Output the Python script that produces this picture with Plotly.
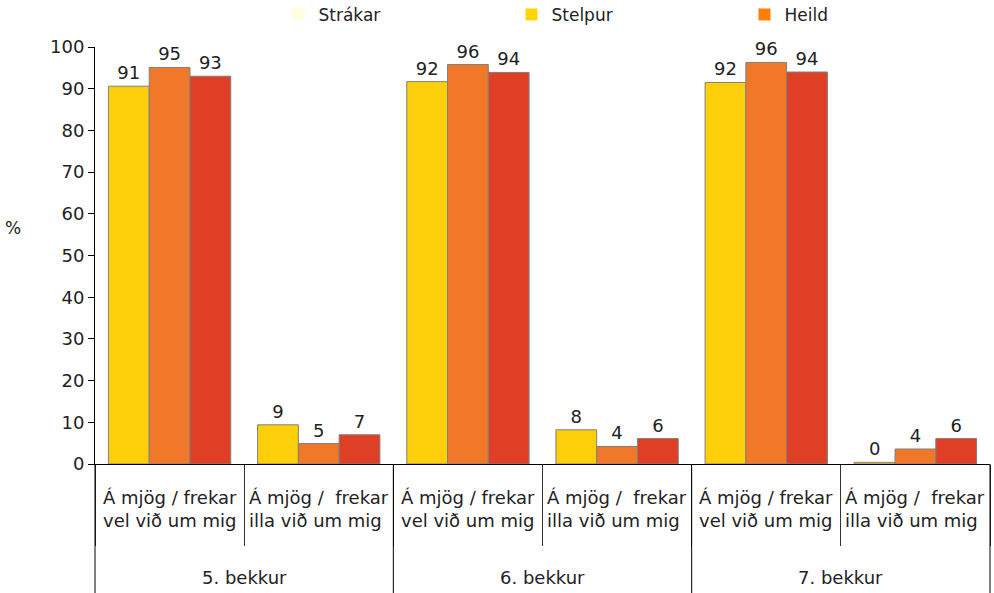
import plotly.graph_objects as go

# gögn lesin af myndinni
bekkir = ["5. bekkur", "6. bekkur", "7. bekkur"]
svor = [
    "Á mjög / frekar<br>vel við um mig",
    "Á mjög /  frekar<br>illa við um mig",
]
strakar = [90.6, 9.4, 91.7, 8.2, 91.5, 0.4]
stelpur = [95.1, 4.9, 95.8, 4.2, 96.3, 3.6]
heild = [93.0, 7.0, 93.9, 6.1, 94.0, 6.1]

radir = ["Strákar", "Stelpur", "Heild"]
litir_sula = ["#FCCF0A", "#F07828", "#DE3F25"]
litir_skyring = ["#FFFFE0", "#FFD700", "#FF7F00"]

FONT = "DejaVu Sans"
TEXTI = "#222222"

x_ytri = [b for b in bekkir for _ in svor]
x_innri = [s for _ in bekkir for s in svor]

fig = go.Figure()

for i, (nafn, gildi, litur) in enumerate(zip(radir, [strakar, stelpur, heild], litir_sula)):
    fig.add_trace(go.Bar(
        x=[x_ytri, x_innri],
        y=gildi,
        name=nafn,
        offsetgroup=str(i),
        showlegend=False,
        marker=dict(color=litur, line=dict(color="#808080", width=1)),
        text=[f"{v:.0f}" for v in gildi],
        textposition="outside",
        textfont=dict(size=18, color=TEXTI, family=FONT),
        cliponaxis=False,
    ))

# skýringar með sínum eigin litum (eins og í frumritinu)
for i, (nafn, litur) in enumerate(zip(radir, litir_skyring)):
    fig.add_trace(go.Bar(
        x=[[x_ytri[0]], [x_innri[0]]],
        y=[None],
        name=nafn,
        offsetgroup=str(i),
        marker=dict(color=litur, line=dict(width=0)),
        showlegend=True,
    ))

n = len(x_innri)
annotations = [dict(
    text="%", x=-0.0916, y=0.566, xref="paper", yref="paper",
    xanchor="center", yanchor="middle",
    showarrow=False, font=dict(size=17),
)]
for i, s in enumerate(x_innri):
    annotations.append(dict(
        text=s, x=(i + 0.5) / n, y=-0.108, xref="paper", yref="paper",
        xanchor="center", yanchor="middle",
        showarrow=False, align="left", font=dict(size=18),
    ))
for j, b in enumerate(bekkir):
    annotations.append(dict(
        text=b, x=(j + 0.5) / len(bekkir), y=-0.271, xref="paper", yref="paper",
        xanchor="center", yanchor="middle",
        showarrow=False, font=dict(size=18),
    ))

shapes = []
for j in range(len(bekkir) + 1):
    xp = j / len(bekkir)
    shapes.append(dict(
        type="line", xref="paper", yref="paper",
        x0=xp, x1=xp, y0=0, y1=-0.33,
        line=dict(color="black", width=1),
    ))

fig.update_layout(
    width=994,
    height=593,
    barmode="group",
    bargap=0.18,
    bargroupgap=0,
    plot_bgcolor="white",
    paper_bgcolor="white",
    font=dict(family=FONT, size=18, color=TEXTI),
    margin=dict(l=95, r=4, t=47, b=129, autoexpand=False),
    legend=dict(
        orientation="h",
        x=0.205, xanchor="left",
        y=1.077, yanchor="middle",
        entrywidth=188,
        entrywidthmode="pixels",
        font=dict(size=17),
        itemwidth=30,
    ),
    annotations=annotations,
    shapes=shapes,
)

fig.update_yaxes(
    range=[0, 100],
    dtick=10,
    showgrid=False,
    showline=True,
    linecolor="black",
    linewidth=1,
    ticks="outside",
    ticklen=6,
    tickcolor="black",
    zeroline=False,
    automargin=False,
)

fig.update_xaxes(
    type="multicategory",
    showline=True,
    linecolor="black",
    linewidth=1,
    showticklabels=False,
    ticks="outside",
    tickson="boundaries",
    ticklen=81,
    tickcolor="#333333",
    showdividers=False,
    showgrid=False,
    automargin=False,
)

# taka burt sjálfgefna spássíu síðunnar svo myndin byrji í horninu
fig.write_html(
    "out.html",
    config={"displayModeBar": False},
    post_script="document.body.style.margin='0';",
)
